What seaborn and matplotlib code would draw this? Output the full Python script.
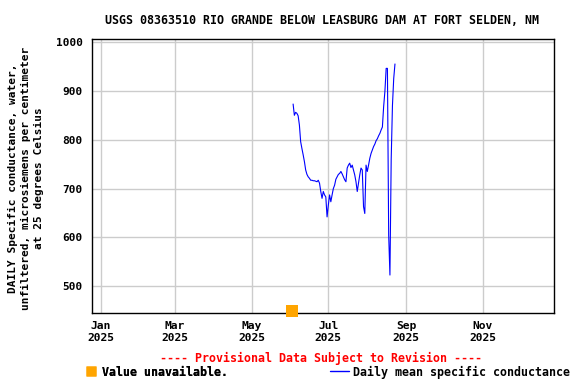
import numpy as np
import pandas as pd
import matplotlib
matplotlib.use("Agg")
import matplotlib.pyplot as plt
import matplotlib.dates as mdates
from matplotlib.lines import Line2D
import seaborn as sns

title = "USGS 08363510 RIO GRANDE BELOW LEASBURG DAM AT FORT SELDEN, NM"
ylabel = ("DAILY Specific conductance, water,\n"
          "unfiltered, microsiemens per centimeter\n"
          "at 25 degrees Celsius")

start_date = "2025-06-03"
values = [873, 850, 856, 854, 849, 830, 796, 782, 769, 755, 738, 729, 724, 721,
          717, 717, 716, 716, 715, 714, 717, 711, 694, 680, 694, 687, 683, 642,
          666, 687, 673, 687, 700, 707, 719, 724, 729, 731, 735, 730, 724, 718,
          714, 742, 748, 752, 743, 748, 738, 728, 714, 694, 711, 728, 742, 738,
          663, 649, 748, 735, 748, 762, 772, 779, 786, 791, 798, 802, 808, 813,
          820, 826, 868, 899, 946, 946, 605, 523, 760, 870, 925, 955]

unavail_dates = ["2025-06-02"]
unavail_values = [449]

yticks = [500, 600, 700, 800, 900, 1000]
xtick_dates = ["2025-01-01", "2025-03-01", "2025-05-01", "2025-07-01",
               "2025-09-01", "2025-11-01"]
xtick_labels = ["Jan\n2025", "Mar\n2025", "May\n2025", "Jul\n2025",
                "Sep\n2025", "Nov\n2025"]

df = pd.DataFrame({"date": pd.date_range(start_date, periods=len(values)),
                   "value": values})
df_un = pd.DataFrame({"date": pd.to_datetime(unavail_dates),
                      "value": unavail_values})

sns.set_theme(style="white")
plt.rcParams["font.family"] = ["DejaVu Sans Mono"]
plt.rcParams["font.weight"] = "bold"
plt.rcParams["text.color"] = "black"

fig = plt.figure(figsize=(5.76, 3.84), dpi=100)
ax = fig.add_axes([91.7/576, 1 - 313.3/384, (554.3-91.7)/576, (313.3-39.3)/384])

sns.lineplot(data=df, x="date", y="value", ax=ax, color="#0000ff",
             linewidth=0.8, zorder=3)
sns.scatterplot(data=df_un, x="date", y="value", ax=ax, color="#ffa500",
                marker="s", s=70, edgecolor="none", clip_on=False, zorder=5)

ax.set_xlim(mdates.date2num(pd.Timestamp("2024-12-24 20:00")),
            mdates.date2num(pd.Timestamp("2025-12-27 17:00")))
ax.set_ylim(444.7, 1005.5)
ax.set_yticks(yticks)
ax.set_yticklabels([str(v) for v in yticks], fontsize=8.0, fontweight="bold")
ax.set_xticks(mdates.date2num(pd.to_datetime(xtick_dates)))
ax.set_xticklabels(xtick_labels, fontsize=8.1, fontweight="bold", linespacing=1.25)
ax.tick_params(axis="both", length=0, colors="black")
ax.tick_params(axis="y", pad=6.5)
ax.tick_params(axis="x", pad=5.5)
ax.grid(True, color="#cccccc", linewidth=1.0)
ax.set_axisbelow(True)
for s in ax.spines.values():
    s.set_color("black")
    s.set_linewidth(1.0)
ax.set_xlabel("")
ax.set_ylabel("")

fig.text(322/576, 1 - 20/384, title, ha="center", va="center",
         fontsize=8.35, fontweight="bold", color="black")
fig.text(26/576, 1 - 178/384, ylabel, ha="center", va="center", rotation=90,
         fontsize=8.0, fontweight="bold", linespacing=1.42, multialignment="center",
         color="black")
fig.text(321/576, 1 - 358/384, "---- Provisional Data Subject to Revision ----",
         ha="center", va="center", fontsize=8.4, fontweight="bold", color="#ff0000")

h1 = Line2D([], [], linestyle="none", marker="s", markersize=7.5,
            markerfacecolor="#ffa500", markeredgecolor="none")
leg1 = fig.legend([h1], ["Value unavailable."], loc="center left",
                  bbox_to_anchor=(85/576, 1 - 372/384), frameon=False,
                  prop={"size": 8.4, "weight": "bold"}, handlelength=1.0,
                  handletextpad=0.45, borderaxespad=0, borderpad=0,
                  labelcolor="black")
fig.add_artist(leg1)
h2 = Line2D([], [], color="#0000ff", linewidth=1.0)
fig.legend([h2], ["Daily mean specific conductance"], loc="center left",
           bbox_to_anchor=(330/576, 1 - 372/384), frameon=False,
           prop={"size": 8.4, "weight": "bold"}, handlelength=1.6,
           handletextpad=0.4, borderaxespad=0, borderpad=0, labelcolor="black")

fig.savefig("out.png", dpi=100)
